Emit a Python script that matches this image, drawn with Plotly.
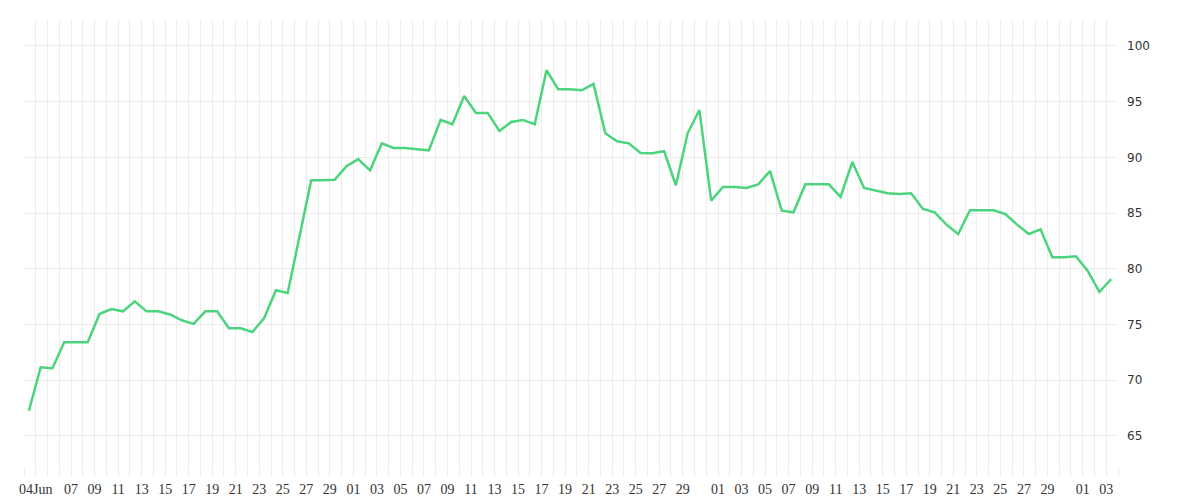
import plotly.graph_objects as go
import pandas as pd

values = [67.26, 71.16, 71.07, 73.4, 73.4, 73.4, 75.94, 76.39, 76.18, 77.08,
          76.18, 76.18, 75.9, 75.38, 75.05, 76.18, 76.18, 74.66, 74.66, 74.33,
          75.58, 78.07, 77.83, 82.9, 87.94, 87.94, 88.0, 89.2, 89.84, 88.84,
          91.26, 90.84, 90.84, 90.72, 90.63, 93.36, 92.97, 95.51, 93.99, 93.99,
          92.37, 93.18, 93.36, 92.97, 97.82, 96.11, 96.11, 96.02, 96.59, 92.16,
          91.44, 91.26, 90.4, 90.37, 90.55, 87.5, 92.16, 94.25, 86.12, 87.34,
          87.34, 87.25, 87.58, 88.78, 85.22, 85.07, 87.58, 87.58, 87.58, 86.45,
          89.59, 87.25, 87.01, 86.78, 86.71, 86.78, 85.37, 85.07, 83.96, 83.12,
          85.25, 85.25, 85.25, 84.92, 83.96, 83.12, 83.54, 81.03, 81.03, 81.12,
          79.83, 77.92, 79.08]
dates = pd.date_range("2019-06-03 10:00", periods=len(values), freq="D")

tick_dates = (["2019-06-04"] + [f"2019-06-{d:02d}" for d in range(7, 30, 2)]
              + [f"2019-07-{d:02d}" for d in range(1, 30, 2)]
              + [f"2019-08-{d:02d}" for d in range(1, 30, 2)]
              + ["2019-09-01", "2019-09-03"])
tick_text = ["04Jun"] + [d[-2:] for d in tick_dates[1:]]

fig = go.Figure(go.Scatter(x=dates, y=values, mode="lines",
                           line=dict(color="#4cd47c", width=2.5)))
fig.update_layout(
    width=1200, height=500, margin=dict(l=16, r=90, t=12, b=42, autoexpand=False),
    paper_bgcolor="white", plot_bgcolor="white", showlegend=False,
)
fig.update_xaxes(
    range=["2019-06-03", "2019-09-04"], tickvals=tick_dates, ticktext=tick_text,
    showgrid=True, gridcolor="#ececec", gridwidth=1, automargin=False,
    ticks="outside", ticklen=10, tickcolor="#ececec",
    tickfont=dict(family="Liberation Serif", size=14, color="#333"),
    minor=dict(dtick=86400000, tick0="2019-06-03", showgrid=True, gridcolor="#ececec",
               ticks="outside", ticklen=10, tickcolor="#ececec"),
    zeroline=False, showline=False,
)
fig.update_yaxes(
    side="right", range=[62.3, 102.33], tickvals=[65, 70, 75, 80, 85, 90, 95, 100],
    showgrid=True, gridcolor="#ececec", zeroline=False, ticklabelstandoff=8,
    automargin=False,
    tickfont=dict(family="DejaVu Sans", size=12, color="#333"),
)
fig.write_html("out.html")
